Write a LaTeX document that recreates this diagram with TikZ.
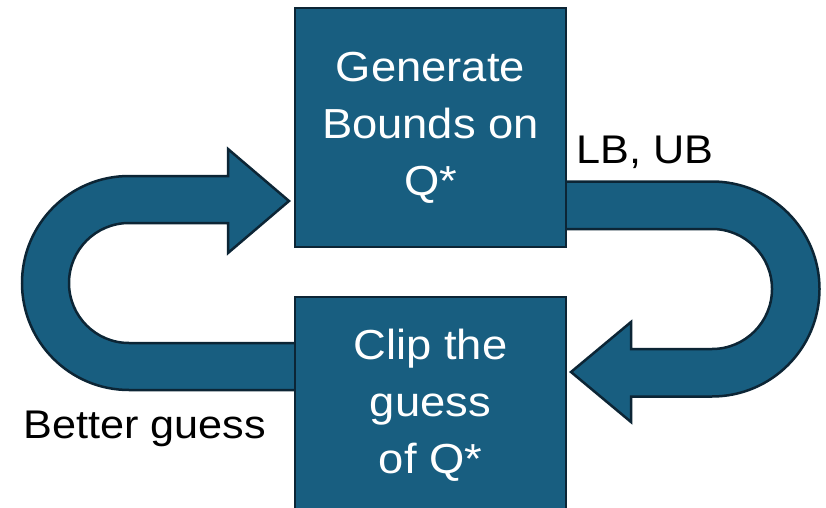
\documentclass[tikz,border=0pt]{standalone}
\usepackage{fontspec}
\setmainfont{Liberation Sans}[FakeStretch=1.08]
\definecolor{boxfill}{HTML}{185E80}
\definecolor{boxline}{HTML}{0C2535}
\begin{document}
\begin{tikzpicture}[x=1pt,y=1pt,
  blockarrow/.style={fill=boxfill,draw=boxline,line width=2.5pt,line join=miter},
  stepbox/.style={rectangle,fill=boxfill,draw=boxline,line width=2.5pt,text=white,align=center,font=\fontsize{42}{57}\selectfont,inner sep=0pt},
  lbl/.style={font=\fontsize{40}{48}\selectfont,text=black,inner sep=0pt}]
\useasboundingbox (0,0) rectangle (826,507);
\clip (0,0) rectangle (826,507);
\fill[white] (0,0) rectangle (826,507);
% left U-turn arrow (Better guess)
\draw[blockarrow] (300,164) -- (129,164) arc[start angle=270,end angle=90,radius=60]
  -- (228,284) -- (228,254) -- (289,306) -- (228,358) -- (228,331) -- (129,331)
  arc[start angle=90,end angle=270,radius=107] -- (300,117) -- cycle;
% right U-turn arrow (LB, UB)
\draw[blockarrow] (560,325.5) -- (712,325.5) arc[start angle=90,end angle=-90,radius=107.5]
  -- (631,110.5) -- (631,85) -- (571,135) -- (631,185) -- (631,158) -- (712,158)
  arc[start angle=-90,end angle=90,radius=60] -- (560,278) -- cycle;
% boxes
\node[stepbox,minimum width=271pt,minimum height=239pt] (gen) at (430.5,379.5) {Generate\\Bounds on\\Q*};
\node[stepbox,minimum width=271pt,minimum height=216pt] (clip) at (430.5,102) {Clip the\\guess\\of Q*};
% labels
\node[lbl,anchor=base] (lbub) at (645,344) {LB, UB};
\node[lbl,anchor=base] (better) at (144.5,69) {Better guess};
\end{tikzpicture}
\end{document}
